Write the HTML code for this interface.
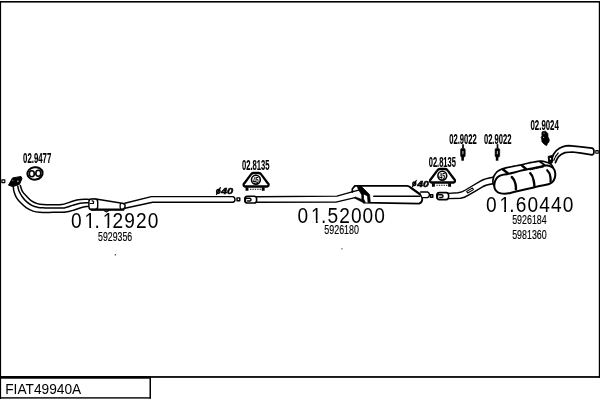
<!DOCTYPE html>
<html>
<head>
<meta charset="utf-8">
<title>FIAT49940A</title>
<style>
html,body{margin:0;padding:0;background:#fff;}
body{width:600px;height:400px;overflow:hidden;position:relative;font-family:"Liberation Sans",sans-serif;}
svg{position:absolute;left:0;top:0;display:block;will-change:transform;}
text{font-family:"Liberation Sans",sans-serif;fill:#000;}
.big{font-size:21.25px;letter-spacing:1.2px;}
.sm{font-size:12.3px;stroke:#000;stroke-width:0.15px;}
.ref{font-size:14.1px;font-weight:bold;stroke:#000;stroke-width:0.15px;}
.p{fill:none;stroke:#000;stroke-width:1.45;stroke-linecap:round;stroke-linejoin:round;}
.pw{fill:#fff;stroke:#000;stroke-width:1.45;stroke-linecap:round;stroke-linejoin:round;}
.t{fill:none;stroke:#000;stroke-width:1.8;stroke-linecap:round;stroke-linejoin:round;}
.k{fill:#000;stroke:#000;stroke-width:1;stroke-linejoin:round;}
</style>
</head>
<body>
<svg width="600" height="400" viewBox="0 0 600 400">
<!-- frame -->
<rect x="0" y="0" width="600" height="400" fill="#fff"/>
<rect x="0" y="1" width="600" height="1.6" fill="#000"/>
<rect x="0" y="1" width="1.1" height="398" fill="#000"/>
<rect x="598.8" y="1" width="1.2" height="377" fill="#000"/>
<rect x="0" y="376.1" width="600" height="1.75" fill="#000"/>
<rect x="0" y="376.1" width="151" height="2.6" fill="#000"/>
<rect x="0" y="397.2" width="151" height="1.4" fill="#000"/>
<rect x="149.5" y="377" width="1.5" height="21.6" fill="#000"/>
<text x="5.2" y="394" style="font-size:13.8px" textLength="76" lengthAdjust="spacingAndGlyphs">FIAT49940A</text>

<!-- specks -->
<rect x="114.8" y="254.2" width="1.2" height="1.2" fill="#222"/>
<rect x="341.2" y="248.1" width="1.4" height="1.3" fill="#777"/>

<!-- ===== FRONT PIPE 01.12920 ===== -->
<g id="front">
<!-- small square far left -->
<rect x="1.9" y="179.8" width="2.9" height="2.8" class="p" style="stroke-width:1.2"/>
<!-- twin down pipes -->
<path class="p" style="stroke-width:1.5" d="M13.3 186.7 C13.4 187.6 13.5 190.2 14.1 192.1 C14.7 194.0 15.5 196.1 16.6 197.9 C17.7 199.7 19.1 201.2 20.7 202.8 C22.3 204.5 24.4 206.4 26.5 207.8 C28.6 209.2 30.9 210.3 33.1 211.1 C35.3 211.8 37.4 212.1 39.7 212.3 C42.1 212.5 44.5 212.5 47.2 212.5 C49.9 212.5 52.9 212.3 56.0 212.2 C59.1 212.1 62.8 212.5 65.8 212.1 C68.8 211.7 71.5 210.8 74.2 210.0 C76.9 209.2 79.4 208.1 81.7 207.5 C84.0 206.9 86.9 206.5 88.3 206.2 C89.7 206.0 89.7 206.0 90.0 206.0"/>
<path class="p" style="stroke-width:1.5" d="M17.8 186.3 C18.0 187.1 18.3 189.5 19.1 191.3 C19.9 193.1 21.2 195.3 22.4 197.0 C23.6 198.7 24.9 200.2 26.5 201.6 C28.1 203.0 30.4 204.7 32.3 205.7 C34.2 206.7 36.0 207.0 38.1 207.4 C40.2 207.8 41.9 207.8 44.7 207.9 C47.5 208.0 51.8 207.9 55.0 207.9 C58.2 207.9 61.3 208.3 64.2 207.9 C67.1 207.5 69.9 206.2 72.5 205.4 C75.1 204.6 77.5 203.8 80.0 203.3 C82.5 202.9 85.8 202.8 87.5 202.7 C89.2 202.6 89.6 202.7 90.0 202.7"/>
<path class="p" style="stroke-width:1.5" d="M20.3 185.5 C20.6 186.5 21.4 189.5 22.4 191.3 C23.4 193.1 25.0 194.6 26.5 196.2 C28.0 197.8 29.7 199.6 31.5 200.8 C33.3 202.0 35.4 203.0 37.3 203.6 C39.2 204.2 40.5 204.4 43.0 204.6 C45.5 204.8 48.9 204.8 52.0 204.8 C55.1 204.8 58.7 205.1 61.7 204.6 C64.7 204.1 67.2 202.9 70.0 202.1 C72.8 201.3 75.5 200.3 78.3 199.8 C81.1 199.3 84.8 199.4 86.7 199.3 C88.7 199.2 89.5 199.5 90.0 199.5"/>
<!-- flange -->
<path class="k" d="M8.5 185.2 L12.6 177.9 L21 176.5 L22 178.6 L19.4 184.4 L12.8 186.6 Z"/>
<ellipse cx="17.9" cy="181.2" rx="0.9" ry="0.6" fill="#ddd"/><ellipse cx="12.8" cy="180.2" rx="0.6" ry="0.5" fill="#bbb"/>
<!-- front box -->
<path class="pw" d="M97.4 199.3 L120.6 203 C123.6 203.2 125.1 204.4 125.1 205.8 C125.1 208 123.6 209.6 121 209.6 L92 209.6 L92 199.3 Z"/>
<rect x="88.9" y="198.9" width="8.8" height="10.6" rx="2.6" ry="2.8" class="pw"/>
<path class="p" style="stroke-width:1.3" d="M120.9 203.2 C119.9 204.4 119.7 207.8 121 209.4"/>
<path class="p" style="stroke-width:1.2" d="M90.2 203.5 L93.4 203.5 L93.6 201.4 L92 200.9"/>
<path class="t" d="M91.4 209.7 L123.4 209.7" style="stroke-width:2.2"/>
<path class="p" style="stroke-width:1.1" d="M104.2 210.6 L106.4 212 L108.8 210.6"/>
<!-- pipe after box -->
<path class="p" d="M124.8 203.2 L151.3 196.6 L232.5 196.6 C234.6 196.8 235 198.5 235 199.5 C235 201 234.3 202.2 232.5 202.3 L152.6 202.3 L124.9 208.2"/>
<!-- small square -->
<rect x="237" y="197.9" width="2.8" height="2.8" class="p" style="stroke-width:1.4"/>
</g>

<!-- ===== MIDDLE 01.52000 ===== -->
<g id="middle">
<!-- sleeve -->
<rect x="245" y="196.2" width="11.6" height="6.8" rx="2.4" ry="2.6" class="pw" style="stroke-width:1.6"/>
<path class="p" style="stroke-width:1.5" d="M246.4 198.3 L249.8 198.3 C251.4 198.5 251.4 200.9 249.8 201.1 L247.6 201.1"/>
<path class="p" style="stroke-width:2" d="M245.2 198 L245.2 201.4"/>
<!-- pipe -->
<path class="p" d="M256.8 196.8 L337 196.1 L352 191.9"/>
<path class="p" d="M256.8 202.3 L336 202.1 L355 197.6"/>
<!-- muffler body -->
<path class="pw" style="stroke-width:1.7" d="M356.3 185.9 L407 185.9 C408.6 186 409.6 186.6 410.6 187.4 L419.6 193.9 C421.6 195.4 422.3 197.2 422.3 199 C422.3 201.2 421.4 202.9 419.2 203.6 L363.8 202.7 L363 196 L358.8 187.6 Z"/>
<path class="p" style="stroke-width:2.2" d="M410.6 187.6 L419.8 194.2"/>
<path class="p" d="M373.8 196.3 L420 196.2"/>
<!-- left end cap -->
<path d="M352.3 189.2 L355.8 185.9 L361 186.4 L369.6 194.6 L370 202.5 L364.2 202.6 L355 197.7 L352.5 192 Z" fill="#fff"/>
<path d="M357.6 185.9 L361.2 186.2 L369.6 194.5 L370.3 202.7 L368 202.7 L367.5 195.9 L363.5 193.9 L363.5 198.8 L365.4 202.4 L364 203 L354.4 198 L355.2 196.9 L361.8 199.5 L361.8 195 L358.7 190 L357.6 187.6 Z" fill="#000" stroke="#000" stroke-width="0.7" stroke-linejoin="round"/>
<path class="p" style="stroke-width:1.7" d="M361 185.9 L354.8 185.9 L352.3 189 L352.4 191.8"/>
<path class="p" d="M352 191.9 L358.8 190.1"/>
<!-- outlet -->
<path class="pw" d="M420.6 191.9 L427.4 191.9 C428.6 192.6 429.5 193.6 429.5 194.6 C429.5 195.8 428.8 197 427.6 197.6 L422.4 197.6"/>
<rect x="430.4" y="194.7" width="2.4" height="2.5" class="p" style="stroke-width:1.4"/>
</g>

<!-- ===== REAR 01.60440 ===== -->
<g id="rear">
<!-- sleeve -->
<rect x="437" y="192.6" width="11.6" height="7" rx="2.4" ry="2.6" class="pw" style="stroke-width:1.6"/>
<path class="p" style="stroke-width:1.5" d="M438.6 194.7 L441.8 194.7 C443.4 194.9 443.4 197.3 441.8 197.5 L439.8 197.5"/>
<path class="p" style="stroke-width:2" d="M437.2 194.4 L437.2 197.8"/>
<!-- pipe -->
<path class="p" d="M448.6 193.4 L458 192.7 C461 192.4 463.5 191.3 465.5 190 L471.3 186.5 L480 181.3 C483 179.6 486 178.4 493 177.3"/>
<path class="p" d="M449 198.6 L460.5 198.2 C463.5 197.9 466 196.8 468 195.4 L475 191.3 L482.5 186.8 C485 185.4 488 184.5 493 183.8"/>
<path class="p" style="stroke-width:1.1" d="M466.7 191.4 L472.4 188 L473.4 189.6 L467.7 193 Z"/>
<!-- muffler outline -->
<path class="pw" style="stroke-width:1.7" d="M493.0 183.4 C493.0 182.8 492.8 180.8 493.0 179.6 C493.2 178.4 493.4 177.2 494.0 176.0 C494.6 174.8 495.7 173.2 496.6 172.2 C497.5 171.2 498.4 170.8 499.4 170.2 C500.4 169.6 501.2 169.3 502.6 168.8 C504.0 168.3 506.1 167.8 508.0 167.4 C509.9 167.0 512.2 166.6 514.2 166.2 C516.2 165.8 517.6 165.6 520.0 165.1 C522.4 164.6 525.8 163.6 528.8 163.0 C531.7 162.4 535.4 161.6 537.5 161.3 C539.6 161.0 540.2 161.1 541.5 161.2 C542.8 161.3 543.8 161.5 545.0 161.8 C546.2 162.1 547.8 162.5 548.9 163.0 C550.0 163.5 550.9 164.2 551.6 165.0 C552.3 165.8 552.9 167.2 553.2 167.6 L553.2 168.2 L507 174.4 L494.4 186 Z"/>
<path class="pw" style="stroke-width:2" d="M507.2 174.2 C506.4 174.3 503.9 174.6 502.6 174.9 C501.3 175.2 500.2 175.6 499.2 176.2 C498.2 176.8 497.1 177.6 496.4 178.6 C495.7 179.6 495.1 180.7 494.8 182.0 C494.5 183.3 494.2 185.1 494.3 186.4 C494.4 187.7 494.7 188.7 495.2 189.6 C495.7 190.5 496.4 191.4 497.4 192.0 C498.4 192.6 499.7 193.1 501.0 193.4 C502.3 193.7 503.7 193.7 505.0 193.7 C506.3 193.7 506.8 193.7 508.6 193.3 C510.4 192.9 512.8 192.2 516.0 191.5 C519.2 190.8 524.4 189.6 528.0 188.8 C531.6 188.0 534.5 187.2 537.5 186.5 C540.5 185.8 544.1 185.3 546.2 184.8 C548.3 184.3 548.9 184.1 550.0 183.6 C551.1 183.1 552.0 182.5 552.8 181.6 C553.6 180.7 554.2 179.6 554.6 178.4 C555.0 177.2 555.3 175.8 555.3 174.6 C555.3 173.4 555.1 172.1 554.8 171.0 C554.4 169.9 553.9 169.0 553.2 168.2 C552.5 167.4 551.4 166.8 550.4 166.4 C549.4 166.0 548.1 165.7 547.0 165.6 C545.9 165.5 545.6 165.5 544.0 165.8 C542.4 166.1 540.0 166.8 537.5 167.3 C535.0 167.9 531.7 168.5 528.8 169.1 C525.8 169.7 522.6 170.3 520.0 170.9 C517.4 171.5 515.1 172.2 513.0 172.8 C510.9 173.4 508.2 174.0 507.2 174.2 Z"/>
<path class="p" style="stroke-width:1.1" stroke-dasharray="1 1.1" d="M530 169.8 L544 166.8"/>
<!-- straps front -->
<path class="p" style="stroke-width:2.4" d="M511.8 177 C513.8 178.8 515 181.2 515.5 184 C515.9 186 516 188 515.9 189.4"/>
<path class="p" style="stroke-width:2.4" d="M530.2 173.2 C532 174.8 533 177.4 533.6 180.2 C534.1 182.6 534.4 184.4 534.4 186"/>
<path class="p" style="stroke-width:2.2" d="M547.2 170.2 C549 171.8 550 174.2 550.4 177 C550.7 179 550.7 180.6 550.5 181.8"/>
<!-- straps top -->
<path class="p" style="stroke-width:2.4" d="M502.8 169.2 L507.8 173.2"/>
<path class="p" style="stroke-width:2.4" d="M521.8 165.4 L526 169"/>
<path class="p" style="stroke-width:1.8" d="M540 161.8 L544.6 165"/>
<!-- tail pipe -->
<path class="p" style="stroke-width:1.7" d="M551.9 158.4 C553 154.6 554.4 152.4 556.3 150.6 C558.4 148.8 560.4 147.6 562.5 146.9 C564.6 146.2 566.6 145.7 568.8 145.7 L581.3 146.9 L592 148.1 C593.6 148.6 594 150.4 594 151.4 C594 153.2 593.6 154.6 592 154.9 L581.3 153.2 L572.5 152 C570 152 567.4 152.2 565 152.6 C562.4 153.6 560.4 154.8 558.8 156.4 C557.6 157.8 556.6 159.6 555.4 162.6"/>
<path class="p" style="stroke-width:1.1" d="M553.8 160.6 C555.2 156.6 556.6 154.6 558.2 153"/>
<!-- bracket -->
<path class="k" d="M548.2 156.4 L552 155.6 L552.9 159.4 L552 163.2 L548.8 162.8 Z"/>
<rect x="549.8" y="157.9" width="1.3" height="1.8" fill="#fff"/>
<!-- small square -->
<rect x="595.8" y="150.6" width="2.4" height="2.6" class="p" style="stroke-width:1.1"/>
</g>

<!-- ===== ICONS ===== -->
<!-- 02.9477 rubber hanger -->
<g id="hanger">
<ellipse cx="35" cy="173.4" rx="7.7" ry="6.2" class="p" style="stroke-width:2" transform="rotate(-8 35 173.4)"/>
<ellipse cx="31.8" cy="173.7" rx="2.5" ry="3" class="p" style="stroke-width:1.6"/>
<ellipse cx="38.3" cy="173.2" rx="2.5" ry="3" class="p" style="stroke-width:1.6"/>
</g>

<!-- clamp 02.8135 #1 -->
<g id="clamp1">
<path class="pw" style="stroke-width:2.3" d="M244.8 186.5 C243.4 186 243.2 184.2 244.4 183.2 L250.8 174.6 C251.6 173.4 252.6 173 253.6 173 L258.6 173 C259.6 173 260.6 173.4 261.4 174.6 L267.8 183.2 C269 184.2 268.8 186 267.4 186.5 Z"/>
<circle cx="255.9" cy="179.7" r="4.4" class="pw" style="stroke-width:1.6"/>
<text transform="translate(252.9,182.8) scale(0.6,1)" style="font-size:8.8px;font-weight:bold">45</text>
<path class="p" style="stroke-width:2.9;stroke-linecap:butt" d="M247 187.2 L247 190.7 M263.2 187.2 L263.2 190.7"/>
<path class="p" style="stroke-width:1.1;stroke-linecap:butt" d="M250 189.2 L261 189.2" stroke-dasharray="1.3 1.1"/>
</g>
<!-- clamp 02.8135 #2 -->
<g id="clamp2" transform="translate(186.4,-4)">
<path class="pw" style="stroke-width:2.3" d="M244.8 186.5 C243.4 186 243.2 184.2 244.4 183.2 L250.8 174.6 C251.6 173.4 252.6 173 253.6 173 L258.6 173 C259.6 173 260.6 173.4 261.4 174.6 L267.8 183.2 C269 184.2 268.8 186 267.4 186.5 Z"/>
<circle cx="255.9" cy="179.7" r="4.4" class="pw" style="stroke-width:1.6"/>
<text transform="translate(252.9,182.8) scale(0.6,1)" style="font-size:8.8px;font-weight:bold">45</text>
<path class="p" style="stroke-width:2.9;stroke-linecap:butt" d="M247 187.2 L247 190.7 M263.2 187.2 L263.2 190.7"/>
<path class="p" style="stroke-width:1.1;stroke-linecap:butt" d="M250 189.2 L261 189.2" stroke-dasharray="1.3 1.1"/>
</g>

<!-- bolts 02.9022 -->
<g id="bolt1">
<path class="p" style="stroke-width:1.7;stroke-linecap:butt" d="M463 144.2 L463 148.6"/>
<path class="p" style="stroke-width:2.6;stroke-linecap:butt" d="M462.6 156.6 L462.6 160.7"/>
<rect x="460.6" y="148.4" width="4.6" height="8.6" rx="1.3" fill="#000" stroke="#000" stroke-width="0.6"/>
<rect x="462.3" y="151" width="1.2" height="3.2" fill="#aaa"/>
</g>
<g id="bolt2" transform="translate(34.5,0)">
<path class="p" style="stroke-width:1.7;stroke-linecap:butt" d="M463 144.2 L463 148.6"/>
<path class="p" style="stroke-width:2.6;stroke-linecap:butt" d="M462.6 156.6 L462.6 160.7"/>
<rect x="460.6" y="148.4" width="4.6" height="8.6" rx="1.3" fill="#000" stroke="#000" stroke-width="0.6"/>
<rect x="462.3" y="151" width="1.2" height="3.2" fill="#aaa"/>
</g>

<!-- 02.9024 icon -->
<g id="h9024">
<path class="k" style="stroke-width:0.8" d="M542.2 131.8 L545.4 131.2 L547.8 133.4 L548 137 L549.3 139.6 L548.9 142 L547.6 143.4 L546.6 145.5 L545 144.8 L543 143 L541.9 141.4 L541.8 139 L541.1 137.3 L542.1 136 L541.9 133 Z"/>
<rect x="543.4" y="132.8" width="1.2" height="0.7" fill="#ccc"/><rect x="543.1" y="136.9" width="1" height="0.9" fill="#eee"/>
</g>

<!-- ===== TEXT ===== -->
<text class="ref" x="23.1" y="162.8" textLength="28.2" lengthAdjust="spacingAndGlyphs">02.9477</text>
<text class="ref" x="241.9" y="170.3" textLength="27.6" lengthAdjust="spacingAndGlyphs">02.8135</text>
<text class="ref" x="428.7" y="166.5" textLength="27.2" lengthAdjust="spacingAndGlyphs">02.8135</text>
<text class="ref" x="449.3" y="143.5" textLength="27.5" lengthAdjust="spacingAndGlyphs">02.9022</text>
<text class="ref" x="483.9" y="143.5" textLength="27.5" lengthAdjust="spacingAndGlyphs">02.9022</text>
<text class="ref" x="530.5" y="129.7" textLength="28.3" lengthAdjust="spacingAndGlyphs">02.9024</text>

<g id="d40a"><ellipse cx="218.3" cy="191.3" rx="1.6" ry="1.9" class="p" style="stroke-width:1.5" transform="rotate(12 218.3 191.3)"/><path class="p" style="stroke-width:1.3" d="M220.4 187.7 L216.5 194.4"/>
<text x="220.9" y="194.2" style="font-size:9.7px;font-weight:bold;font-style:italic;stroke:#000;stroke-width:0.5px" textLength="12.3" lengthAdjust="spacingAndGlyphs">40</text></g>
<g id="d40b"><ellipse cx="414.3" cy="183.7" rx="1.5" ry="1.8" class="p" style="stroke-width:1.5" transform="rotate(12 414.3 183.7)"/><path class="p" style="stroke-width:1.3" d="M416.3 180.5 L412.5 186.6"/>
<text x="417.2" y="186.7" style="font-size:9px;font-weight:bold;font-style:italic;stroke:#000;stroke-width:0.5px" textLength="11.6" lengthAdjust="spacingAndGlyphs">40</text></g>

<text class="big" transform="translate(71.00,228.10) scale(0.9,1)" dx="0.00 2.00 -2.00 2.00 -2.00 0.00 0.00 0.00">01.12920</text>
<text class="sm" x="98.1" y="241" textLength="34" lengthAdjust="spacingAndGlyphs">5929356</text>

<text class="big" transform="translate(297.60,222.60) scale(0.9,1)" dx="0.00 2.00 -2.00 0.00 0.00 0.00 0.00 0.00">01.52000</text>
<text class="sm" x="324.3" y="234.3" textLength="34.6" lengthAdjust="spacingAndGlyphs">5926180</text>

<text class="big" transform="translate(485.90,211.60) scale(0.9,1)" dx="0.00 2.00 -2.00 0.00 0.00 0.00 0.00 0.00">01.60440</text>
<text class="sm" x="512.2" y="223.9" textLength="34.5" lengthAdjust="spacingAndGlyphs">5926184</text>
<text class="sm" x="512.2" y="238.8" textLength="34.5" lengthAdjust="spacingAndGlyphs">5981360</text>
<!-- FOOTFIX -->
<g id="footfix">
<rect x="85.54" y="225.51" width="3.74" height="3.29" fill="#fff"/>
<rect x="91.05" y="225.51" width="3.60" height="3.29" fill="#fff"/>
<rect x="103.65" y="225.51" width="3.74" height="3.29" fill="#fff"/>
<rect x="109.16" y="225.51" width="3.60" height="3.29" fill="#fff"/>
<rect x="312.14" y="220.01" width="3.74" height="3.29" fill="#fff"/>
<rect x="317.65" y="220.01" width="3.60" height="3.29" fill="#fff"/>
<rect x="500.44" y="209.01" width="3.74" height="3.29" fill="#fff"/>
<rect x="505.95" y="209.01" width="3.60" height="3.29" fill="#fff"/>
</g>
<!-- /FOOTFIX -->
</svg>
</body>
</html>
